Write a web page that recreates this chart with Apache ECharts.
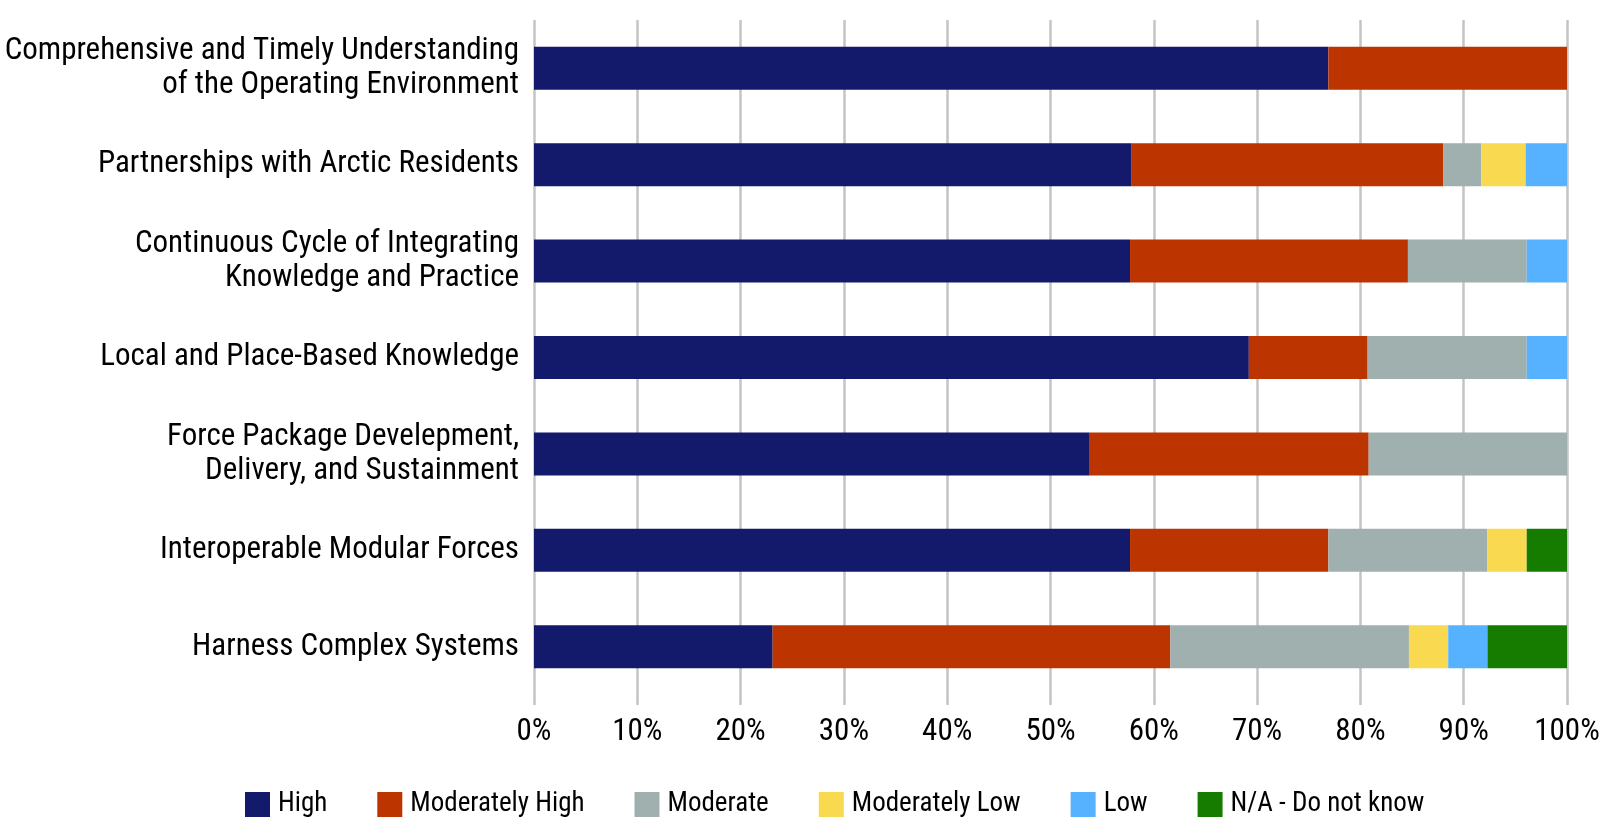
<!DOCTYPE html>
<html>
<head>
<meta charset="utf-8">
<script src="https://cdn.jsdelivr.net/npm/echarts@6/dist/echarts.min.js"></script>
<style>
html,body{margin:0;padding:0;background:#fff;}
#chart{width:1612px;height:836px;}
</style>
</head>
<body>
<div id="chart"></div>
<script>
var categories = [
  "Comprehensive and Timely Understanding\nof the Operating Environment",
  "Partnerships with Arctic Residents",
  "Continuous Cycle of Integrating\nKnowledge and Practice",
  "Local and Place-Based Knowledge",
  "Force Package Develepment,\nDelivery, and Sustainment",
  "Interoperable Modular Forces",
  "Harness Complex Systems"
];
var seriesNames = ["High", "Moderately High", "Moderate", "Moderately Low", "Low", "N/A - Do not know"];
var high      = [76.9, 57.8, 57.7, 69.2, 53.8, 57.7, 23.1];
var modHigh   = [23.1, 30.2, 26.9, 11.5, 27.0, 19.2, 38.5];
var moderate  = [0,    3.7, 11.5, 15.4, 19.2, 15.4, 23.1];
var modLow    = [0,    4.3,  0,    0,    0,    3.8,  3.8];
var low       = [0,    4.0,  3.9,  3.9,  0,    0,    3.8];
var na        = [0,    0,    0,    0,    0,    3.9,  7.7];
var xTicks = [0, 10, 20, 30, 40, 50, 60, 70, 80, 90, 100];

var colors = ["#131a6b", "#bc3400", "#9fb0ae", "#f9d94f", "#56b2ff", "#167c00"];
var FONT = "'Roboto Condensed', 'Liberation Sans Narrow', sans-serif";
var values = [high, modHigh, moderate, modLow, low, na];

var chart = echarts.init(document.getElementById('chart'), null, {renderer: 'canvas'});
var series = seriesNames.map(function (name, i) {
  return {
    name: name,
    type: 'bar',
    stack: 'total',
    barWidth: 43,
    itemStyle: {color: colors[i]},
    data: values[i]
  };
});
chart.setOption({
  animation: false,
  textStyle: {fontFamily: FONT},
  grid: {left: 534, right: 45, top: 20, bottom: 141, containLabel: false, outerBoundsMode: 'none'},
  legend: {
    data: seriesNames,
    left: 240,
    top: 786,
    icon: 'rect',
    itemWidth: 25,
    itemHeight: 25,
    itemGap: 50,
    textStyle: {fontSize: 27, color: '#000', fontFamily: FONT, padding: [0, 0, 0, 3]}
  },
  xAxis: {
    type: 'value',
    min: xTicks[0],
    max: xTicks[xTicks.length - 1],
    interval: 10,
    axisLine: {show: false},
    axisTick: {show: true, length: 10, lineStyle: {color: '#c4c4c4', width: 2.5}},
    splitLine: {show: true, lineStyle: {color: '#c4c4c4', width: 2.5}},
    axisLabel: {
      margin: 22,
      fontSize: 31,
      color: '#000',
      fontFamily: FONT,
      formatter: function (v) { return v + '%'; }
    }
  },
  yAxis: {
    type: 'category',
    inverse: true,
    data: categories,
    axisLine: {show: false},
    axisTick: {show: false},
    axisLabel: {
      margin: 15,
      fontSize: 31,
      lineHeight: 34,
      color: '#000',
      fontFamily: FONT,
      align: 'right'
    }
  },
  series: series
});
</script>
</body>
</html>
